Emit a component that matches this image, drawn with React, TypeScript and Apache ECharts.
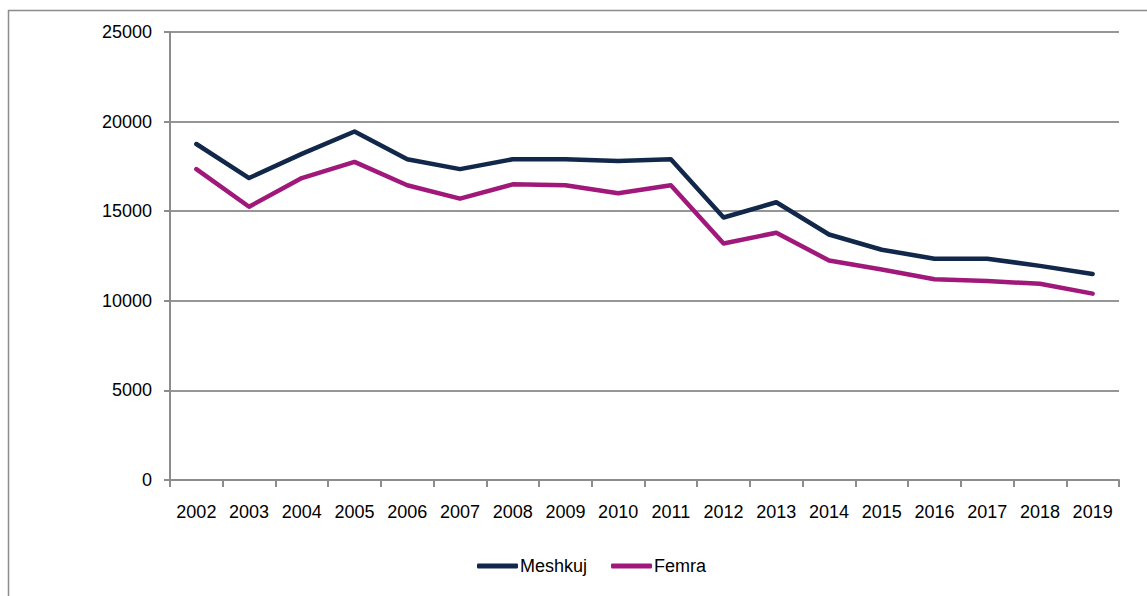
import React, { useEffect, useRef } from "react";
import * as echarts from "echarts";

const years = ["2002","2003","2004","2005","2006","2007","2008","2009","2010","2011","2012","2013","2014","2015","2016","2017","2018","2019"];
const meshkuj = [18750, 16850, 18200, 19450, 17900, 17350, 17900, 17900, 17800, 17900, 14650, 15500, 13700, 12850, 12350, 12350, 11950, 11500];
const femra = [17350, 15250, 16850, 17750, 16450, 15700, 16500, 16450, 16000, 16450, 13200, 13800, 12250, 11750, 11200, 11100, 10950, 10400];

const FONT = "'Liberation Sans Narrow', 'Arial Narrow', 'Liberation Sans', sans-serif";
const FS = 18;

export default function App() {
  const ref = useRef<HTMLDivElement>(null);
  useEffect(() => {
    document.body.style.margin = "0";
    const chart = echarts.init(ref.current!, null, { renderer: "svg" });
    chart.setOption({
      animation: false,
      backgroundColor: "#ffffff",
      textStyle: { fontFamily: FONT },
      grid: { left: 170, right: 28, top: 32, bottom: 116, containLabel: false },
      graphic: [
        { type: "line", shape: { x1: 8, y1: 10.5, x2: 1147, y2: 10.5 }, style: { stroke: "#8c8c8c", lineWidth: 1.5 } },
        { type: "line", shape: { x1: 8.5, y1: 10, x2: 8.5, y2: 596 }, style: { stroke: "#8c8c8c", lineWidth: 1.5 } },
      ],
      legend: {
        bottom: 16,
        left: 472,
        itemWidth: 41,
        itemHeight: 5,
        itemGap: 24,
        icon: "roundRect",
        textStyle: { fontFamily: FONT, fontSize: FS, color: "#000", padding: [0, 0, 0, -3] },
        data: ["Meshkuj", "Femra"],
      },
      xAxis: {
        type: "category",
        data: years,
        boundaryGap: true,
        axisLine: { lineStyle: { color: "#8c8c8c", width: 2 } },
        axisTick: { show: true, length: 7, alignWithLabel: false, interval: 0, lineStyle: { color: "#8c8c8c", width: 2 } },
        axisLabel: { color: "#000", fontSize: FS, fontFamily: FONT, margin: 23, interval: 0 },
        splitLine: { show: false },
      },
      yAxis: {
        type: "value",
        min: 0,
        max: 25000,
        interval: 5000,
        axisLine: { show: true, lineStyle: { color: "#8c8c8c", width: 2 } },
        axisTick: { show: true, length: 6, lineStyle: { color: "#8c8c8c", width: 2 } },
        axisLabel: { color: "#000", fontSize: FS, fontFamily: FONT, margin: 18, formatter: (v: number) => String(v) },
        splitLine: { show: true, lineStyle: { color: "#969696", width: 2 } },
      },
      series: [
        {
          name: "Meshkuj",
          type: "line",
          data: meshkuj,
          symbol: "none",
          color: "#11284a",
          lineStyle: { width: 4.5, color: "#11284a", cap: "round", join: "round" },
        },
        {
          name: "Femra",
          type: "line",
          data: femra,
          symbol: "none",
          color: "#a0197a",
          lineStyle: { width: 4.5, color: "#a0197a", cap: "round", join: "round" },
        },
      ],
    });
    return () => chart.dispose();
  }, []);
  return <div ref={ref} style={{ width: 1147, height: 596 }} />;
}
